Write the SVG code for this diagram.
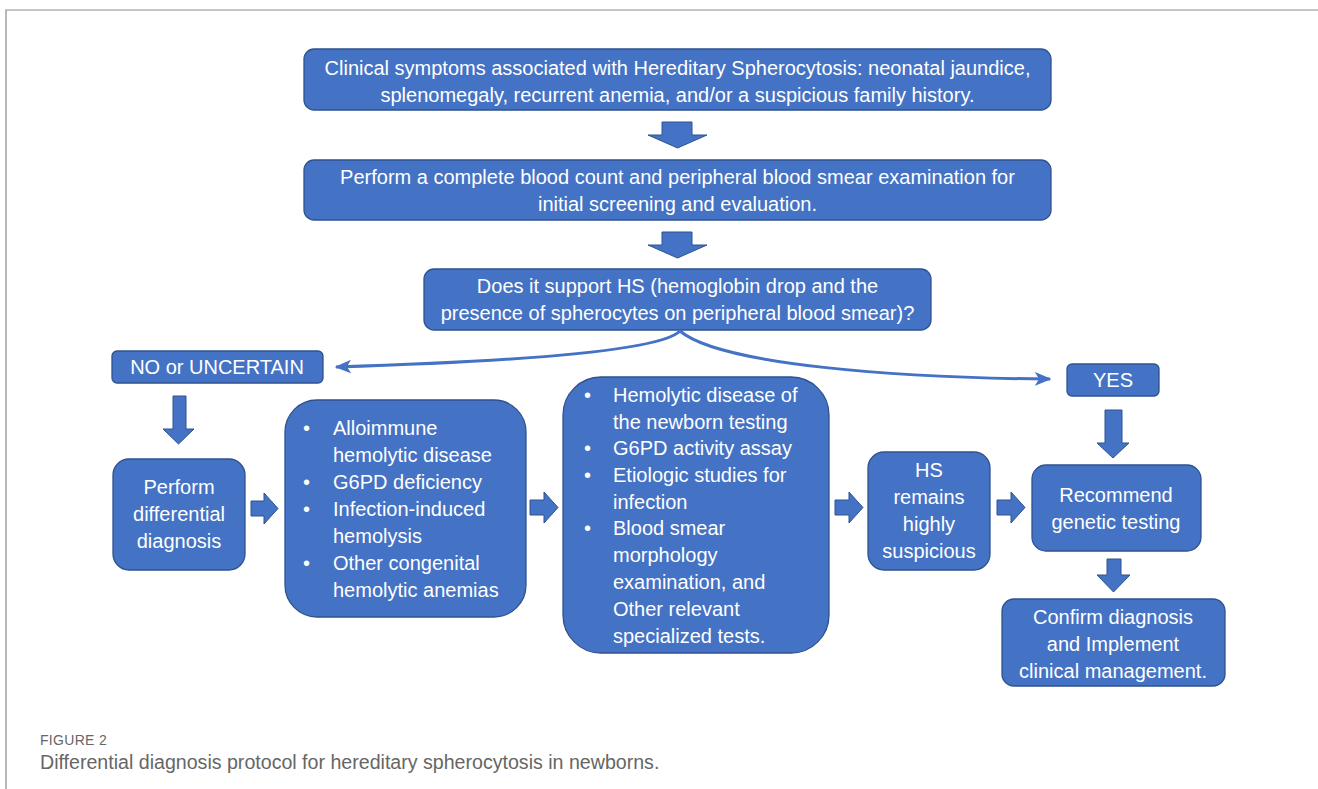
<svg xmlns="http://www.w3.org/2000/svg" width="1318" height="789" viewBox="0 0 1318 789">
<style>
.box{fill:#4472C4;stroke:#2F528F;stroke-width:1.3}
.blk{fill:#4472C4;stroke:#2F528F;stroke-width:1}
.t{font-family:"Liberation Sans",Arial,sans-serif;font-size:20px;fill:#ffffff}
.c{text-anchor:middle}
.con{fill:none;stroke:#4472C4;stroke-width:3}
.cap{font-family:"Liberation Sans",Arial,sans-serif;fill:#666666}
</style>
<defs>
<marker id="ah" viewBox="0 0 12 10" refX="11" refY="5" markerWidth="5.5" markerHeight="5" markerUnits="strokeWidth" orient="auto">
<path d="M0 0 L12 5 L0 10 L3 5 Z" fill="#4472C4"/>
</marker>
</defs>
<rect width="1318" height="789" fill="#ffffff"/>
<path d="M1318 10 H6 V789" fill="none" stroke="#8c8c8c" stroke-width="1.2"/>

<g id="n1">
<rect class="box" x="304" y="49" width="747" height="61" rx="10"/>
<text class="t c" x="677.5" y="75">Clinical symptoms associated with Hereditary Spherocytosis: neonatal jaundice,</text>
<text class="t c" x="677.5" y="102">splenomegaly, recurrent anemia, and/or a suspicious family history.</text>
</g>
<g id="n2">
<rect class="box" x="304" y="160" width="747" height="60" rx="10"/>
<text class="t c" x="677.5" y="184">Perform a complete blood count and peripheral blood smear examination for</text>
<text class="t c" x="677.5" y="211">initial screening and evaluation.</text>
</g>
<g id="n3">
<rect class="box" x="424" y="269" width="507" height="61" rx="10"/>
<text class="t c" x="677.5" y="293">Does it support HS (hemoglobin drop and the</text>
<text class="t c" x="677.5" y="320">presence of spherocytes on peripheral blood smear)?</text>
</g>
<g id="n_no">
<rect class="box" x="112" y="351" width="211" height="32" rx="5"/>
<text class="t c" x="217" y="374">NO or UNCERTAIN</text>
</g>
<g id="n_yes">
<rect class="box" x="1067" y="364" width="92" height="32" rx="5"/>
<text class="t c" x="1113" y="387">YES</text>
</g>
<g id="n_diff">
<rect class="box" x="113" y="459" width="132" height="111" rx="16"/>
<text class="t c" x="179" y="494">Perform</text>
<text class="t c" x="179" y="521">differential</text>
<text class="t c" x="179" y="548">diagnosis</text>
</g>
<g id="n_list1">
<rect class="box" x="285" y="400" width="241" height="217" rx="32"/>
<text class="t" x="303" y="435">•</text>
<text class="t" x="333" y="435">Alloimmune</text>
<text class="t" x="333" y="462">hemolytic disease</text>
<text class="t" x="303" y="489">•</text>
<text class="t" x="333" y="489">G6PD deficiency</text>
<text class="t" x="303" y="516">•</text>
<text class="t" x="333" y="516">Infection-induced</text>
<text class="t" x="333" y="543">hemolysis</text>
<text class="t" x="303" y="570">•</text>
<text class="t" x="333" y="570">Other congenital</text>
<text class="t" x="333" y="597">hemolytic anemias</text>
</g>
<g id="n_list2">
<rect class="box" x="563" y="377" width="266" height="276" rx="38"/>
<text class="t" x="584" y="402">•</text>
<text class="t" x="613" y="402">Hemolytic disease of</text>
<text class="t" x="613" y="429">the newborn testing</text>
<text class="t" x="584" y="455">•</text>
<text class="t" x="613" y="455">G6PD activity assay</text>
<text class="t" x="584" y="482">•</text>
<text class="t" x="613" y="482">Etiologic studies for</text>
<text class="t" x="613" y="509">infection</text>
<text class="t" x="584" y="535">•</text>
<text class="t" x="613" y="535">Blood smear</text>
<text class="t" x="613" y="562">morphology</text>
<text class="t" x="613" y="589">examination, and</text>
<text class="t" x="613" y="616">Other relevant</text>
<text class="t" x="613" y="643">specialized tests.</text>
</g>
<g id="n_hs">
<rect class="box" x="868" y="452" width="122" height="118" rx="16"/>
<text class="t c" x="929" y="477">HS</text>
<text class="t c" x="929" y="504">remains</text>
<text class="t c" x="929" y="531">highly</text>
<text class="t c" x="929" y="558">suspicious</text>
</g>
<g id="n_rec">
<rect class="box" x="1032" y="465" width="169" height="86" rx="14"/>
<text class="t c" x="1116" y="502">Recommend</text>
<text class="t c" x="1116" y="529">genetic testing</text>
</g>
<g id="n_conf">
<rect class="box" x="1002" y="599" width="223" height="87" rx="12"/>
<text class="t c" x="1113" y="624">Confirm diagnosis</text>
<text class="t c" x="1113" y="651">and Implement</text>
<text class="t c" x="1113" y="678">clinical management.</text>
</g>

<g id="connectors">
<path class="con" d="M680 331 C660 352 500 362 336 367" marker-end="url(#ah)"/>
<path class="con" d="M680 331 C720 365 900 378 1050 379" marker-end="url(#ah)"/>
<polygon class="blk" points="662,122 692,122 692,135 707,135 677.5,148 648,135 662,135"/>
<polygon class="blk" points="662,232 692,232 692,245 707,245 677.5,258 648,245 662,245"/>
<polygon class="blk" points="173,396 186,396 186,429 194,429 178.5,444 163,429 173,429"/>
<polygon class="blk" points="1105,410 1122,410 1122,443 1129,443 1113,458 1097,443 1105,443"/>
<polygon class="blk" points="1107,559 1121,559 1121,575 1130,575 1113.5,592 1097,575 1107,575"/>
<polygon class="blk" points="251,501 264,501 264,493 278,508.5 264,524 264,516 251,516"/>
<polygon class="blk" points="530,500 544,500 544,492 558,507.5 544,523 544,515 530,515"/>
<polygon class="blk" points="835,500 849,500 849,492 863,507.5 849,523 849,515 835,515"/>
<polygon class="blk" points="997,500 1011,500 1011,492 1025,507.5 1011,523 1011,515 997,515"/>
</g>

<text class="cap" x="40" y="745" font-size="14" letter-spacing="0.3" fill="#555555">FIGURE 2</text>
<text class="cap" x="40" y="769" font-size="19.6">Differential diagnosis protocol for hereditary spherocytosis in newborns.</text>
</svg>
